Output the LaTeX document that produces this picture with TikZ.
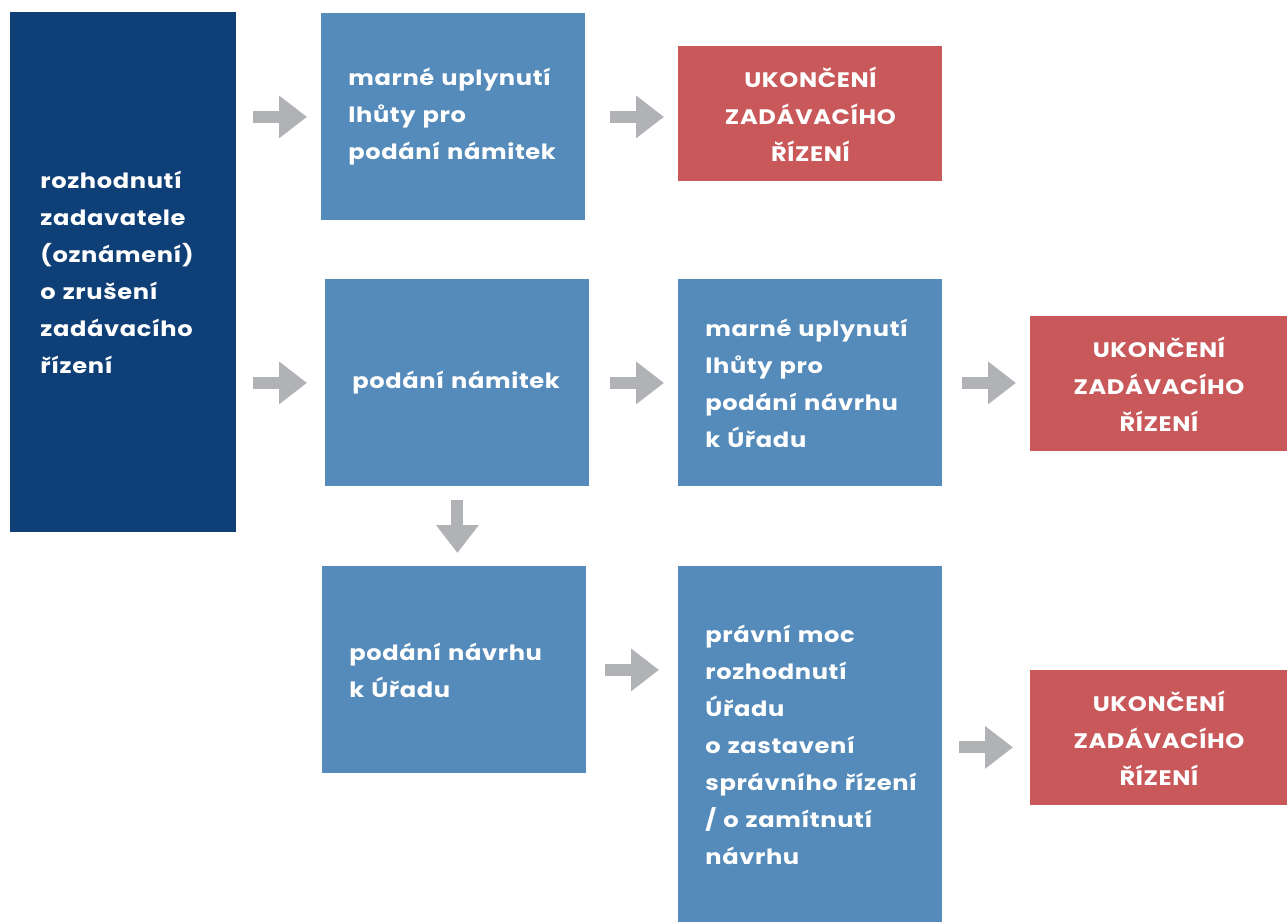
\documentclass[tikz,border=0pt]{standalone}
\usepackage{fontspec}
\setmainfont{Poppins}[FakeStretch=1.15,LetterSpace=3,Ligatures={NoCommon}]
\usetikzlibrary{arrows.meta}
\definecolor{navy}{HTML}{0E3F76}
\definecolor{steel}{HTML}{558BBA}
\definecolor{brick}{HTML}{C9585A}
\definecolor{arrgray}{HTML}{B1B2B6}
\begin{document}
\begin{tikzpicture}[x=0.5pt,y=-0.5pt,
  every node/.style={text=white,font=\bfseries\fontsize{10.5}{18.5}\selectfont},
  stepbox/.style={anchor=north west,fill=steel,align=left,inner xsep=13.5pt,inner ysep=0pt,
    text width=105pt,minimum width=132pt,minimum height=103.5pt},
  endbox/.style={anchor=north west,fill=brick,align=center,inner sep=0pt,
    text width=#1,minimum width=#1,minimum height=67.5pt},
  blk/.style={draw=arrgray,line width=6pt,-{Triangle[length=14pt,width=20.5pt]}}]
  \useasboundingbox (0,0) rectangle (1287,922);
  % column 1: decision
  \node[stepbox,fill=navy,inner xsep=15pt,text width=83pt,minimum width=113pt,minimum height=260pt]
    (start) at (10,12) {rozhodnutí\\zadavatele\\(oznámení)\\o zrušení\\zadávacího\\řízení};
  % upper row
  \node[stepbox] (lapse1) at (321,13) {marné~uplynutí\\lhůty pro\\podání~námitek};
  \node[endbox=132pt] (end1) at (678,46) {UKONČENÍ\\ZADÁVACÍHO\\ŘÍZENÍ};
  % middle row
  \node[stepbox] (objection) at (325,279) {podání~námitek};
  \node[stepbox] (lapse2) at (678,279) {marné~uplynutí\\lhůty pro\\podání~návrhu\\k Úřadu};
  \node[endbox=128.5pt] (end2) at (1030,316) {UKONČENÍ\\ZADÁVACÍHO\\ŘÍZENÍ};
  % lower row
  \node[stepbox] (motion) at (322,566) {podání~návrhu\\k Úřadu};
  \node[stepbox,minimum height=178pt] (ruling) at (678,566)
    {právní moc\\rozhodnutí\\Úřadu\\o zastavení\\správního~řízení\\/ o zamítnutí\\návrhu};
  \node[endbox=128.5pt] (end3) at (1030,670) {UKONČENÍ\\ZADÁVACÍHO\\ŘÍZENÍ};

  \draw[blk,shorten <=8pt,shorten >=7pt] (start.east |- lapse1.west) -- (lapse1.west);
  \draw[blk,shorten <=12pt,shorten >=7pt] (lapse1.east) -- (lapse1.east -| end1.west);
  \draw[blk,shorten <=8pt,shorten >=9pt] (start.east |- objection.west) -- (objection.west);
  \draw[blk,shorten <=10pt,shorten >=7pt] (objection.east) -- (lapse2.west);
  \draw[blk,shorten <=9.5pt,shorten >=7pt] (lapse2.east) -- (lapse2.east -| end2.west);
  \draw[blk,shorten <=6.5pt,shorten >=6.5pt] (objection.south) -- (objection.south |- motion.north);
  \draw[blk,shorten <=9pt,shorten >=9.5pt] (motion.east) -- (motion.east -| ruling.west);
  \draw[blk,shorten <=8pt,shorten >=8.5pt] ([yshift=-1.5pt]ruling.east) -- ([yshift=-1.5pt]ruling.east -| end3.west);
\end{tikzpicture}
\end{document}
